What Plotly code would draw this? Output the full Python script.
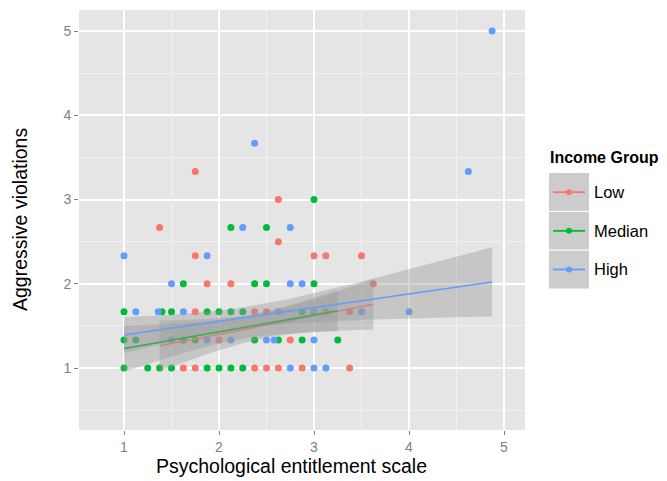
import numpy as np
import plotly.graph_objects as go

# ---- data (*_n = number of overplotted points at that spot) ----
groups = ["Low", "Median", "High"]
colors = ["#F8766D", "#00BA38", "#619CFF"]

low_x = [1.625, 1.75, 2.375, 2.5, 2.625, 2.875, 3.375,
         2.0, 2.75,
         1.75, 2.375, 2.5, 3.125, 3.375,
         1.875, 2.125, 3.625,
         1.75, 3.0, 3.125, 3.5,
         2.625, 1.375, 2.625, 1.75]
low_y = [1, 1, 1, 1, 1, 1, 1,
         1.333, 1.333,
         1.667, 1.667, 1.667, 1.667, 1.667,
         2, 2, 2,
         2.333, 2.333, 2.333, 2.333,
         2.5, 2.667, 3, 3.333]
low_n = [6, 6, 9, 1, 1, 1, 1,
         1, 1,
         1, 1, 2, 7, 7,
         1, 1, 1,
         1, 1, 1, 1,
         1, 1, 1, 1]

med_x = [1.0, 1.25, 1.375, 1.5, 1.875, 2.0, 2.125, 2.25,
         1.0, 1.125, 1.625, 1.75, 2.375, 2.625, 2.875, 3.25,
         1.0, 1.4, 1.5, 1.875, 2.0, 2.125, 2.25, 2.875,
         1.625, 2.375, 2.5, 3.0,
         2.125, 2.5, 3.0]
med_y = [1, 1, 1, 1, 1, 1, 1, 1,
         1.333, 1.333, 1.333, 1.333, 1.333, 1.333, 1.333, 1.333,
         1.667, 1.667, 1.667, 1.667, 1.667, 1.667, 1.667, 1.667,
         2, 2, 2, 2,
         2.667, 2.667, 3]
med_n = [2, 1, 1, 1, 1, 1, 3, 5,
         1, 1, 1, 1, 1, 1, 2, 4,
         1, 1, 1, 1, 1, 1, 1, 7,
         1, 1, 1, 1,
         1, 1, 1]

high_x = [2.75, 3.0, 3.125,
          1.5, 1.875, 2.125, 2.5, 2.58, 3.0,
          1.125, 1.36, 1.625, 2.625, 3.0, 3.5, 4.0,
          1.5, 2.75, 2.875,
          1.0, 1.875,
          2.25, 2.75,
          4.625, 2.375, 4.875]
high_y = [1, 1, 1,
          1.333, 1.333, 1.333, 1.333, 1.333, 1.333,
          1.667, 1.667, 1.667, 1.667, 1.667, 1.667, 1.667,
          2, 2, 2,
          2.333, 2.333,
          2.667, 2.667,
          3.333, 3.667, 5]
high_n = [2, 4, 7,
          16, 9, 1, 1, 1, 1,
          1, 11, 9, 7, 1, 2, 3,
          1, 1, 1,
          1, 1,
          1, 1,
          1, 1, 1]

xs = [low_x, med_x, high_x]
ys = [low_y, med_y, high_y]
ns = [low_n, med_n, high_n]

x_ticks = [1, 2, 3, 4, 5]
y_ticks = [1, 2, 3, 4, 5]

FONT = "Liberation Sans, Arial, Helvetica, sans-serif"

fig = go.Figure()

# points first (ribbons are drawn over them, as in the reference)
for g, c, x, y in zip(groups, colors, xs, ys):
    fig.add_trace(go.Scatter(x=x, y=y, mode="markers", name=g,
                             marker=dict(color=c, size=7, line=dict(width=0)),
                             showlegend=False, hoverinfo="skip"))


def t975(df):
    z = 1.959964
    return z + (z**3 + z) / (4 * df) + (5 * z**5 + 16 * z**3 + 3 * z) / (96 * df**2)


# linear fits with 95% confidence bands (geom_smooth(method = "lm"))
for g, c, x, y, n_ in zip(groups, colors, xs, ys, ns):
    x = np.repeat(np.asarray(x, float), n_)
    y = np.repeat(np.asarray(y, float), n_)
    n = len(x)
    b, a = np.polyfit(x, y, 1)
    resid = y - (a + b * x)
    s = np.sqrt(np.sum(resid**2) / (n - 2))
    xm = x.mean()
    sxx = np.sum((x - xm) ** 2)
    xg = np.linspace(x.min(), x.max(), 80)
    yg = a + b * xg
    se = s * np.sqrt(1.0 / n + (xg - xm) ** 2 / sxx)
    t = t975(n - 2)
    lo, hi = yg - t * se, yg + t * se
    fig.add_trace(go.Scatter(x=np.concatenate([xg, xg[::-1]]),
                             y=np.concatenate([lo, hi[::-1]]),
                             fill="toself", fillcolor="rgba(153,153,153,0.4)",
                             line=dict(width=0), mode="lines",
                             showlegend=False, hoverinfo="skip"))
    fig.add_trace(go.Scatter(x=xg, y=yg, mode="lines",
                             line=dict(color=c, width=1.6),
                             showlegend=False, hoverinfo="skip"))

# page geometry (the page body adds an 8px margin around the figure)
OFF = 8
W, H = 667 - OFF, 481 - OFF
PL, PR, PT, PB = 79, 525, 10, 430   # panel edges in page pixels


def px(xp):
    return (xp - PL) / (PR - PL)


def py(yp):
    return (PB - yp) / (PB - PT)


shapes = []
annotations = []

# manual legend (ggplot style)
annotations.append(dict(text="<b>Income Group</b>", xref="paper", yref="paper",
                        x=px(548), y=py(157), xanchor="left", yanchor="middle",
                        showarrow=False, font=dict(family=FONT, size=16, color="black")))
key_tops = [173, 211.7, 250.3]
key_h = 38.3
for i, (g, c) in enumerate(zip(groups, colors)):
    top = key_tops[i]
    bot = top + key_h
    cy = (top + bot) / 2
    shapes.append(dict(type="rect", xref="paper", yref="paper",
                       x0=px(549), x1=px(589), y0=py(bot), y1=py(top),
                       fillcolor="#CCCCCC", line=dict(width=0), layer="above"))
    shapes.append(dict(type="line", xref="paper", yref="paper",
                       x0=px(553), x1=px(585), y0=py(cy), y1=py(cy),
                       line=dict(color=c, width=1.8), layer="above"))
    shapes.append(dict(type="circle", xref="paper", yref="paper",
                       x0=px(566), x1=px(572), y0=py(cy + 3), y1=py(cy - 3),
                       fillcolor=c, line=dict(width=0), layer="above"))
    annotations.append(dict(text=g, xref="paper", yref="paper",
                            x=px(592), y=py(cy), xanchor="left", yanchor="middle",
                            showarrow=False, font=dict(family=FONT, size=16.5, color="black")))
for yy in [211.35, 250.0]:
    shapes.append(dict(type="line", xref="paper", yref="paper",
                       x0=px(549), x1=px(589), y0=py(yy), y1=py(yy),
                       line=dict(color="white", width=1), layer="above"))

# axis titles
annotations.append(dict(text="Psychological entitlement scale", xref="paper", yref="paper",
                        x=px(291), y=py(466), xanchor="center", yanchor="middle",
                        showarrow=False, font=dict(family=FONT, size=19.5, color="black")))
annotations.append(dict(text="Aggressive violations", xref="paper", yref="paper",
                        x=px(20), y=0.5, xanchor="center", yanchor="middle", textangle=-90,
                        showarrow=False, font=dict(family=FONT, size=19.5, color="black")))

xr0 = 1 - (124 - PL) / 95.0
xr1 = 1 + (PR - 124) / 95.0
yr0 = 1 - (PB - 368) / 84.25
yr1 = 5 + (31 - PT) / 84.25

fig.update_layout(
    width=W, height=H,
    margin=dict(l=PL - OFF, r=W - (PR - OFF), t=PT - OFF, b=H - (PB - OFF), autoexpand=False),
    paper_bgcolor="white", plot_bgcolor="#E5E5E5",
    font=dict(family=FONT, size=14, color="#7F7F7F"),
    shapes=shapes, annotations=annotations,
    showlegend=False,
    xaxis=dict(range=[xr0, xr1], tickvals=x_ticks, ticktext=[str(v) for v in x_ticks],
               showgrid=True, gridcolor="white", gridwidth=1.6, zeroline=False,
               ticks="outside", ticklen=4, tickcolor="#7F7F7F", tickwidth=1,
               tickfont=dict(family=FONT, size=14, color="#7F7F7F"), showline=False,
               minor=dict(tickvals=[1.5, 2.5, 3.5, 4.5], showgrid=True,
                          gridcolor="#F2F2F2", gridwidth=0.8, ticks="")),
    yaxis=dict(range=[yr0, yr1], tickvals=y_ticks, ticktext=[str(v) for v in y_ticks],
               showgrid=True, gridcolor="white", gridwidth=1.6, zeroline=False,
               ticks="outside", ticklen=4, tickcolor="#7F7F7F", tickwidth=1,
               tickfont=dict(family=FONT, size=14, color="#7F7F7F"), showline=False,
               minor=dict(tickvals=[0.5, 1.5, 2.5, 3.5, 4.5], showgrid=True,
                          gridcolor="#F2F2F2", gridwidth=0.8, ticks="")),
)

fig.write_html("out.html")
